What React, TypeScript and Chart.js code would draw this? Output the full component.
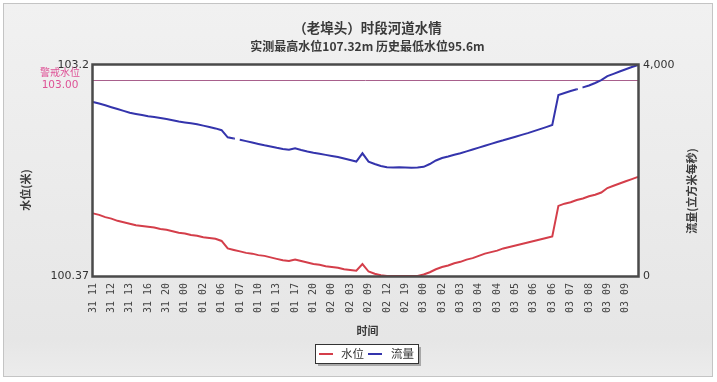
import React, { useEffect, useRef } from 'react';
import { Chart, registerables } from 'chart.js';
Chart.register(...registerables);

const titleText = '（老埠头）时段河道水情';
const subtitleText = '实测最高水位107.32m 历史最低水位95.6m';
const xTitle = '时间';
const leftTitle = '水位(米)';
const rightTitle = '流量(立方米每秒)';
const seriesNames = ['水位', '流量'];
const warningName = '警戒水位';

const tickLabels = [
  '31 11', '31 12', '31 13', '31 16', '31 20', '01 00', '01 02', '01 06', '01 07', '01 10',
  '01 13', '01 17', '01 20', '02 00', '02 03', '02 09', '02 12', '02 19', '03 00', '03 02',
  '03 03', '03 04', '03 04', '03 05', '03 06', '03 06', '03 07', '03 08', '03 09', '03 09',
];

const waterLevel = [
  101.21, 101.19, 101.16, 101.14, 101.11, 101.09, 101.07, 101.05, 101.04, 101.03,
  101.02, 101.00, 100.99, 100.97, 100.95, 100.94, 100.92, 100.91, 100.89, 100.88,
  100.87, 100.84, 100.74, 100.72, 100.70, 100.68, 100.67, 100.65, 100.64, 100.62,
  100.60, 100.58, 100.57, 100.59, 100.57, 100.55, 100.53, 100.52, 100.50, 100.49,
  100.48, 100.46, 100.45, 100.44, 100.53, 100.43, 100.40, 100.38, 100.37, 100.37,
  100.37, 100.37, 100.37, 100.37, 100.39, 100.42, 100.46, 100.49, 100.51, 100.54,
  100.56, 100.59, 100.61, 100.64, 100.67, 100.69, 100.71, 100.74, 100.76, 100.78,
  100.80, 100.82, 100.84, 100.86, 100.88, 100.90, 101.31, 101.34, 101.36, 101.39,
  101.41, 101.44, 101.46, 101.49, 101.55, 101.58, 101.61, 101.64, 101.67, 101.70,
];

const flow = [
  3300, 3270, 3236, 3200, 3166, 3130, 3096, 3073, 3052, 3029,
  3014, 2995, 2976, 2954, 2929, 2912, 2895, 2876, 2851, 2826,
  2798, 2764, 2629, 2605, 2583, 2557, 2531, 2504, 2478, 2455,
  2430, 2408, 2392, 2421, 2389, 2360, 2335, 2317, 2296, 2277,
  2256, 2227, 2199, 2169, 2326, 2167, 2123, 2085, 2061, 2057,
  2061, 2057, 2053, 2057, 2070, 2123, 2190, 2237, 2265, 2298,
  2328, 2362, 2398, 2434, 2468, 2504, 2540, 2572, 2607, 2641,
  2675, 2709, 2747, 2785, 2823, 2862, 3431, 3469, 3507, 3539,
  3575, 3611, 3659, 3712, 3788, 3833, 3877, 3920, 3962, 4000,
];

// indices after which the flow record has a short break
const flowBreaks = [23, 79];

const levelMin = 100.37;
const levelMax = 103.2;
const warningLevel = 103.0;
const flowMin = 0;
const flowMax = 4000;

const categories = waterLevel.map((_, i) => (i % 3 === 0 ? tickLabels[i / 3] : ''));

const RED = 'rgb(212,62,74)';
const BLUE = 'rgb(52,52,172)';
const CJK = '"Noto Sans CJK SC", "DejaVu Sans", sans-serif';

const decorPlugin = {
  id: 'decor',
  beforeDraw(chart: any) {
    const { ctx, width, height, chartArea } = chart;
    ctx.save();
    ctx.fillStyle = '#ffffff';
    ctx.fillRect(0, 0, width, height);
    const g = ctx.createLinearGradient(0, 3, 0, 377);
    g.addColorStop(0, '#f1f1f1');
    g.addColorStop(0.9, '#e6e6e6');
    g.addColorStop(1, '#ececec');
    ctx.fillStyle = g;
    ctx.fillRect(3, 3, 710, 374);
    ctx.strokeStyle = '#c4c4c4';
    ctx.lineWidth = 1;
    ctx.strokeRect(3.5, 3.5, 709, 373);
    ctx.fillStyle = '#ffffff';
    ctx.fillRect(chartArea.left, chartArea.top, chartArea.right - chartArea.left, chartArea.bottom - chartArea.top);
    ctx.restore();
  },
  beforeDatasetsDraw(chart: any) {
    const { ctx, chartArea, scales } = chart;
    const y = Math.round(scales.y.getPixelForValue(warningLevel)) + 0.5;
    ctx.save();
    ctx.strokeStyle = 'rgb(168,96,140)';
    ctx.lineWidth = 1;
    ctx.beginPath();
    ctx.moveTo(chartArea.left, y);
    ctx.lineTo(chartArea.right, y);
    ctx.stroke();
    ctx.restore();
  },
  afterDatasetsDraw(chart: any) {
    const { ctx, chartArea } = chart;
    ctx.save();
    ctx.strokeStyle = '#4a4a4a';
    ctx.lineWidth = 2.5;
    ctx.strokeRect(chartArea.left - 0.5, chartArea.top - 0.5, chartArea.right - chartArea.left + 1, chartArea.bottom - chartArea.top + 1);
    ctx.restore();
  },
  afterDraw(chart: any) {
    const { ctx, chartArea, scales } = chart;
    const cx = (chartArea.left + chartArea.right) / 2 + 2;
    ctx.save();
    ctx.textAlign = 'center';
    ctx.textBaseline = 'middle';
    ctx.fillStyle = '#3a3a3a';
    ctx.font = 'bold 13.5px ' + CJK;
    ctx.fillText(titleText, cx, 28);
    ctx.font = 'bold 12px ' + CJK;
    ctx.fillText(subtitleText, cx, 46.5);

    ctx.font = 'bold 11px ' + CJK;
    ctx.fillText(xTitle, cx, 331);

    ctx.save();
    ctx.translate(26, 190);
    ctx.rotate(-Math.PI / 2);
    ctx.fillText(leftTitle, 0, 0);
    ctx.restore();
    ctx.save();
    ctx.translate(692, 191);
    ctx.rotate(-Math.PI / 2);
    ctx.fillText(rightTitle, 0, 0);
    ctx.restore();

    const wy = scales.y.getPixelForValue(warningLevel);
    ctx.fillStyle = 'rgb(222,82,150)';
    ctx.textAlign = 'center';
    ctx.font = '10px ' + CJK;
    ctx.fillText(warningName, 60, wy - 7.5);
    ctx.font = '10.5px "DejaVu Sans", sans-serif';
    ctx.fillText(warningLevel.toFixed(2), 60, wy + 5.5);

    const lx = 315, ly = 344, lw = 103, lh = 19;
    ctx.fillStyle = 'rgba(0,0,0,0.28)';
    ctx.fillRect(lx + 3, ly + 3, lw, lh);
    ctx.fillStyle = '#ffffff';
    ctx.fillRect(lx, ly, lw, lh);
    ctx.strokeStyle = '#333333';
    ctx.lineWidth = 1;
    ctx.strokeRect(lx + 0.5, ly + 0.5, lw, lh);
    const my = ly + 10;
    ctx.lineWidth = 2;
    ctx.strokeStyle = RED;
    ctx.beginPath(); ctx.moveTo(319, my); ctx.lineTo(333, my); ctx.stroke();
    ctx.strokeStyle = BLUE;
    ctx.beginPath(); ctx.moveTo(368, my); ctx.lineTo(382, my); ctx.stroke();
    ctx.fillStyle = '#333333';
    ctx.textAlign = 'left';
    ctx.font = '11.5px ' + CJK;
    ctx.fillText(seriesNames[0], 341, my);
    ctx.fillText(seriesNames[1], 391, my);
    ctx.restore();
  },
};

export default function App() {
  const ref = useRef<HTMLCanvasElement>(null);
  useEffect(() => {
    const canvas = ref.current;
    if (!canvas) return;
    const chart = new Chart(canvas, {
      type: 'line',
      data: {
        labels: categories,
        datasets: [
          {
            label: seriesNames[0],
            data: waterLevel,
            borderColor: RED,
            backgroundColor: RED,
            borderWidth: 2,
            pointRadius: 0,
            tension: 0,
            yAxisID: 'y',
          },
          {
            label: seriesNames[1],
            data: flow,
            borderColor: BLUE,
            backgroundColor: BLUE,
            borderWidth: 2,
            pointRadius: 0,
            tension: 0,
            yAxisID: 'y1',
            segment: {
              borderDash: (c: any) => (flowBreaks.includes(c.p0DataIndex) ? [1, 5] : undefined),
            },
          },
        ],
      },
      options: {
        responsive: false,
        animation: false,
        devicePixelRatio: 1,
        layout: { padding: { left: 0, right: 0, top: 65, bottom: 56 } },
        plugins: { legend: { display: false }, tooltip: { enabled: false }, title: { display: false } },
        scales: {
          x: {
            type: 'category',
            offset: false,
            grid: { display: false, drawTicks: false },
            border: { display: false },
            afterFit: (s: any) => { s.height = 50; },
            ticks: {
              autoSkip: false,
              minRotation: 90,
              maxRotation: 90,
              padding: 7,
              color: '#444444',
              font: { family: '"DejaVu Sans Mono", monospace', size: 10 },
              callback: (_v: any, i: number) => categories[i],
            },
          },
          y: {
            position: 'left',
            min: levelMin,
            max: levelMax,
            grid: { display: false, drawTicks: false },
            border: { display: false },
            afterFit: (s: any) => { s.width = 93; },
            afterBuildTicks: (s: any) => { s.ticks = [{ value: levelMin }, { value: levelMax }]; },
            ticks: {
              padding: 4,
              color: '#333333',
              font: { family: '"DejaVu Sans", sans-serif', size: 11 },
              callback: (v: any) => String(v),
            },
          },
          y1: {
            position: 'right',
            min: flowMin,
            max: flowMax,
            grid: { display: false, drawTicks: false },
            border: { display: false },
            afterFit: (s: any) => { s.width = 79; },
            afterBuildTicks: (s: any) => { s.ticks = [{ value: flowMin }, { value: flowMax }]; },
            ticks: {
              padding: 5,
              color: '#333333',
              font: { family: '"DejaVu Sans", sans-serif', size: 11 },
              callback: (v: any) => Number(v).toLocaleString('en-US'),
            },
          },
        },
      },
      plugins: [decorPlugin],
    } as any);
    return () => chart.destroy();
  }, []);
  return (
    <div style={{ position: 'absolute', left: 0, top: 0, width: 717, height: 382 }}>
      <canvas ref={ref} width={717} height={382} style={{ display: 'block', width: 717, height: 382 }} />
    </div>
  );
}
